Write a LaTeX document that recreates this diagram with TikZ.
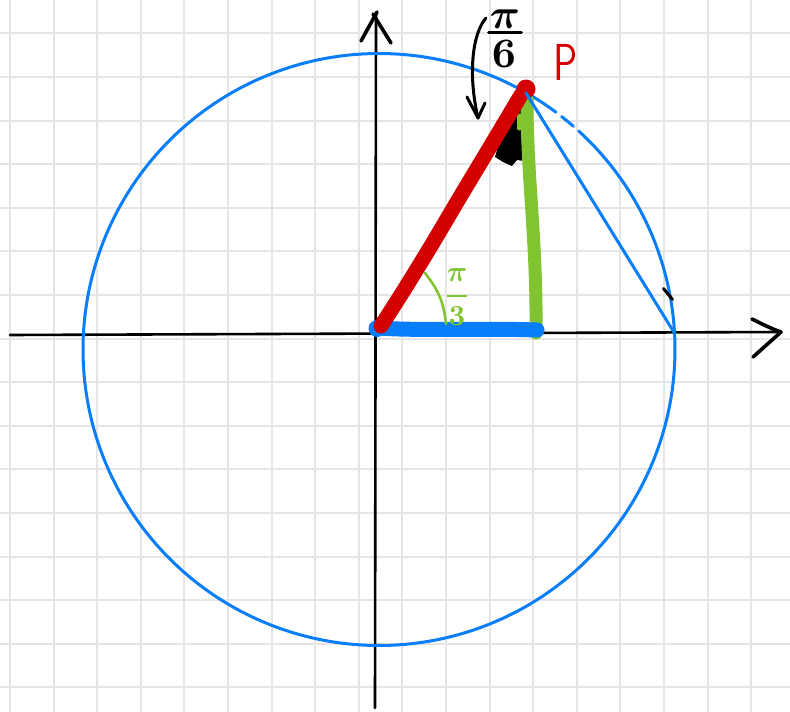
\documentclass[tikz,border=0pt]{standalone}
\usepackage{amsmath}
\definecolor{gridc}{RGB}{229,229,229}
\definecolor{cblue}{RGB}{8,126,250}
\definecolor{cred}{RGB}{212,0,0}
\definecolor{cgreen}{RGB}{128,196,50}
\begin{document}
\begin{tikzpicture}[x=1pt,y=-1pt,line cap=round,line join=round,
  gridline/.style={gridc,line width=2pt,line cap=butt},
  axisline/.style={black,line width=2.6pt},
  arrowarm/.style={black,line width=3.6pt},
  thinblue/.style={cblue,line width=3pt},
  thickblue/.style={cblue,line width=15pt},
  thickred/.style={cred,line width=15pt},
  thickgreen/.style={cgreen,line width=13pt},
  handink/.style={black,line width=3pt}]
\useasboundingbox (0,0) rectangle (790,712);
\fill[white] (0,0) rectangle (790,712);
% grid
\foreach \k in {0,...,17} \draw[gridline] ({10+43.6*\k},0) -- ({10+43.6*\k},712);
\foreach \k in {1,...,16} \draw[gridline] (0,{-10.3+43.6*\k}) -- (790,{-10.3+43.6*\k});
% named points
\coordinate (C) at (379,349.5);
\coordinate (O) at (379,328);
\coordinate (P) at (526,89);
\coordinate (Pt) at (526,93);
\coordinate (A) at (675,334);
\coordinate (B) at (537,330);
\coordinate (G0) at (527,100);
\coordinate (G1) at (536,333);
\coordinate (xs) at (10,335);
\coordinate (xe) at (781,332);
\coordinate (ys) at (375,708);
\coordinate (ye) at (376,14);
% axes
\draw[axisline] (xs) -- (xe);
\draw[axisline] (ys) -- (ye);
\draw[arrowarm] (752,319) .. controls (762,324) and (772,329) .. (xe);
\draw[arrowarm] (753,357) -- (xe);
\draw[arrowarm] (361,41) -- (377,12);
\draw[arrowarm] (373,14) -- (391,43);
% circle with a small gap and a dash near P
\draw[thinblue] plot[domain=-47.6:306.7,samples=300,smooth] ({379+296*cos(\x)},{349.5+296*sin(\x)});
\draw[thinblue] plot[domain=-51.9:-48.95,samples=6,smooth] ({379+296*cos(\x)},{349.5+296*sin(\x)});
% tick on circle
\draw[handink] (663.5,288.5) -- (672.5,299.5);
% black filled wedge
\fill[black] (524,97) -- (518,110) -- (511,117) -- (504,130) -- (499,143) -- (495,157) -- (503,162) -- (512,166) -- (517,160) -- (524,161) -- (522,147) -- (521,128) -- cycle;
% green vertical segment
\draw[thickgreen] (G0) .. controls (527,180) and (537,240) .. (G1);
\draw[cgreen,line width=5pt] (519,116) -- (519,128);
% blue base segment
\draw[thickblue] (O) .. controls (420,331) and (480,328) .. (B);
\fill[cblue] (377,328.5) circle[radius=8.5pt];
% red radius
\draw[thickred] plot[smooth] coordinates {(381,326) (404,290) (431,246) (460,197) (490,147) (521,95)};
\fill[cred] (P) circle[radius=9.5pt];
% thin blue chord
\draw[thinblue] (Pt) -- (A);
% angle mark pi/3
\draw[cgreen,line width=2.6pt] (425,273) .. controls (440,292) and (444,305) .. (446,324);
\node[text=cgreen,inner sep=0pt] (l3) at (457,297) {\scalebox{2.9}{\boldmath$\displaystyle\frac{\pi}{\mathbf{3}}$}};
% label pi/6 (stacked) and curved arrow
\node[text=black,inner sep=0pt] (l6n) at (505,19) {\scalebox{4.2}{\boldmath$\pi$}};
\node[text=black,inner sep=0pt] (l6d) at (504,54) {\scalebox{4.2}{$\mathbf{6}$}};
\draw[handink] ([xshift=-1pt,yshift=-4pt]l6n.south west) -- ([xshift=1pt,yshift=-4pt]l6n.south east);
\draw[handink] (486,18) .. controls (472,34) and (468,75) .. (478,118);
\draw[handink] (467,97) -- (478,118) -- (485,103);
% P label
\node[text=cred,inner sep=0pt] (lP) at (566,62) {\scalebox{3.8}[5.2]{\sffamily P}};
\end{tikzpicture}
\end{document}
